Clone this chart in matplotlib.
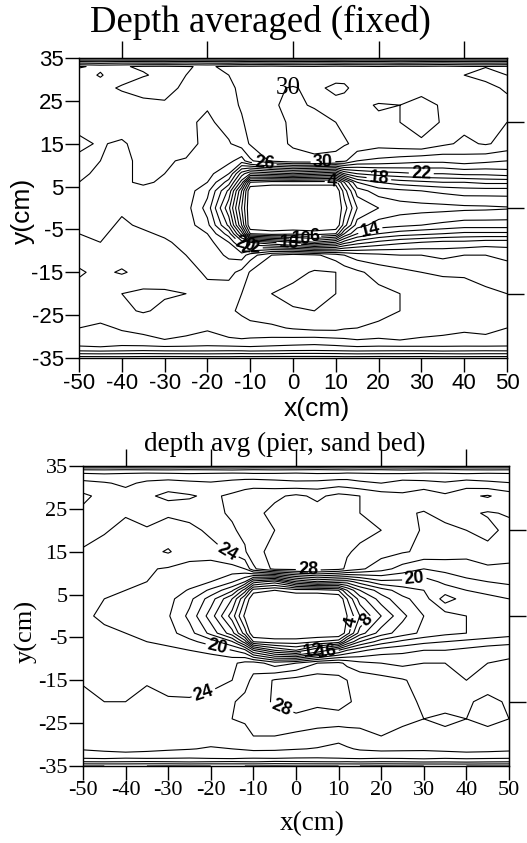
import numpy as np
import matplotlib.pyplot as plt

plt.rcParams['axes.unicode_minus'] = False

# grid of the measured depth-averaged velocity (cm/s), rows run from y=35 down to y=-35
x_cm = [-50, -45, -40, -35, -30, -25, -20, -15, -12, -10, -5, 0, 5, 10, 12, 15, 20, 25, 30, 35, 40, 45, 50]
y_cm = [35, 34, 33, 31, 28, 24, 20, 15, 11, 8, 6, 4, 0, -4, -6, -8, -11, -15, -20, -24, -28, -31, -33, -34, -35]

speed_fixed = [
    [19.0, 19.1, 19.0, 18.9, 19.0, 19.1, 19.0, 19.0, 18.9, 19.0, 19.1, 19.0, 19.0, 18.9, 19.0, 19.1, 19.0, 19.0, 18.9, 19.0, 19.1, 19.0, 19.0],
    [25.0, 24.8, 25.1, 25.0, 24.9, 25.2, 25.0, 24.8, 25.0, 25.1, 24.9, 25.0, 25.2, 25.0, 24.9, 25.0, 25.1, 24.8, 25.0, 25.2, 25.0, 24.9, 25.0],
    [30.2, 29.6, 29.8, 30.3, 30.4, 30.1, 29.8, 30.3, 30.5, 30.4, 30.6, 30.3, 30.2, 30.5, 30.4, 30.3, 30.1, 30.4, 30.3, 30.5, 30.2, 30.1, 30.3],
    [29.0, 30.2, 28.6, 29.8, 30.6, 30.0, 29.2, 30.0, 30.6, 30.8, 31.2, 30.6, 30.2, 31.0, 31.2, 30.6, 30.0, 30.6, 30.2, 30.8, 30.0, 29.2, 30.0],
    [28.4, 29.0, 30.4, 31.4, 31.0, 29.4, 28.6, 29.6, 30.4, 31.0, 31.6, 32.2, 31.4, 32.6, 32.4, 31.2, 30.2, 30.8, 31.4, 30.8, 30.2, 30.8, 29.6],
    [29.8, 28.6, 28.2, 29.0, 29.6, 28.6, 28.2, 29.4, 30.2, 30.8, 31.8, 32.4, 31.8, 31.2, 31.0, 31.4, 32.2, 32.0, 32.6, 31.8, 30.6, 30.0, 30.8],
    [28.6, 28.0, 29.6, 29.0, 28.0, 28.4, 27.6, 28.8, 29.8, 30.6, 31.6, 32.2, 32.8, 32.0, 31.6, 31.8, 31.6, 32.0, 33.0, 31.8, 30.6, 31.2, 30.0],
    [27.6, 28.2, 27.6, 29.2, 29.8, 29.0, 27.2, 27.8, 29.0, 30.2, 31.4, 32.2, 32.6, 32.8, 32.2, 31.6, 30.8, 31.2, 31.6, 30.4, 29.6, 30.2, 29.4],
    [28.4, 28.0, 27.4, 28.6, 28.2, 27.8, 27.6, 26.6, 25.0, 27.6, 30.4, 31.4, 31.6, 31.0, 30.4, 28.0, 27.5, 27.0, 26.5, 26.5, 27.0, 26.5, 26.0],
    [28.2, 27.8, 27.6, 28.4, 28.0, 27.6, 26.8, 24.0, 17.0, 14.0, 15.0, 16.0, 15.0, 14.0, 18.0, 20.0, 21.0, 21.5, 22.0, 22.0, 22.5, 22.5, 23.0],
    [28.0, 27.6, 27.8, 28.2, 27.8, 27.4, 26.0, 21.0, 13.0, 4.0, 3.0, 3.0, 3.0, 3.0, 8.0, 14.0, 16.0, 17.0, 17.5, 18.0, 18.0, 18.5, 18.5],
    [27.8, 27.4, 27.8, 27.6, 27.4, 27.0, 24.6, 17.5, 8.0, 0.0, 0.0, 0.0, 0.0, 0.0, 5.0, 11.0, 13.0, 13.5, 14.0, 14.5, 15.0, 15.0, 15.0],
    [27.6, 27.2, 27.8, 27.4, 27.6, 26.8, 23.2, 14.5, 6.0, 0.0, 0.0, 0.0, 0.0, 0.0, 3.0, 8.0, 10.0, 11.0, 11.2, 11.3, 11.5, 11.6, 11.8],
    [27.8, 27.6, 28.2, 27.8, 27.4, 27.0, 24.6, 17.5, 8.0, 0.0, 0.0, 0.0, 0.0, 0.0, 5.0, 11.0, 13.0, 13.5, 14.0, 14.5, 15.0, 15.0, 15.0],
    [28.0, 27.8, 28.4, 28.2, 27.8, 27.4, 26.0, 21.0, 13.0, 4.0, 3.0, 3.5, 3.0, 4.0, 10.0, 14.0, 16.0, 17.0, 17.5, 18.0, 18.5, 18.5, 18.5],
    [28.4, 28.0, 28.6, 28.2, 28.2, 27.6, 26.8, 24.0, 19.0, 18.0, 16.0, 14.0, 12.0, 14.0, 17.0, 19.0, 20.5, 21.5, 22.0, 22.5, 22.5, 23.0, 23.0],
    [28.6, 28.2, 28.8, 28.4, 28.6, 28.0, 27.2, 25.6, 25.0, 27.0, 30.0, 31.0, 30.4, 29.0, 28.0, 27.0, 26.5, 26.0, 26.0, 25.5, 26.0, 26.0, 25.5],
    [27.8, 28.4, 27.8, 28.6, 29.2, 29.0, 27.6, 27.4, 28.6, 30.2, 31.8, 31.4, 32.2, 32.0, 31.2, 30.4, 29.2, 28.6, 28.0, 27.8, 27.8, 27.6, 27.0],
    [28.6, 29.4, 30.0, 30.4, 30.2, 30.0, 28.8, 29.0, 30.0, 30.8, 32.0, 32.6, 32.4, 32.0, 31.8, 31.2, 30.6, 30.0, 29.4, 28.8, 28.6, 28.2, 28.0],
    [28.4, 29.0, 29.6, 30.2, 29.6, 29.0, 28.4, 29.6, 30.4, 30.8, 31.4, 31.8, 32.0, 31.4, 31.2, 30.8, 30.6, 30.0, 29.4, 29.2, 28.8, 28.6, 28.6],
    [28.0, 27.6, 28.2, 28.4, 28.8, 28.8, 28.2, 28.8, 29.0, 29.4, 29.6, 30.2, 30.6, 30.6, 30.2, 30.0, 29.6, 29.4, 28.8, 28.8, 28.2, 28.2, 28.0],
    [27.5, 27.8, 27.2, 27.6, 27.9, 27.5, 27.3, 27.7, 27.8, 27.6, 27.4, 27.2, 27.0, 27.3, 27.5, 27.8, 27.6, 27.9, 27.7, 27.4, 27.6, 27.8, 27.5],
    [25.0, 25.2, 25.0, 24.8, 25.0, 25.1, 25.0, 24.9, 25.0, 25.2, 25.0, 24.8, 24.7, 24.9, 25.0, 25.1, 25.0, 24.9, 25.0, 25.2, 25.0, 24.9, 25.0],
    [22.0, 22.1, 22.0, 21.9, 22.0, 22.0, 22.1, 22.0, 21.9, 22.0, 22.0, 21.8, 21.8, 21.9, 22.0, 22.1, 22.0, 22.0, 21.9, 22.0, 22.1, 22.0, 22.0],
    [19.0, 19.0, 19.1, 19.0, 18.9, 19.0, 19.0, 19.1, 19.0, 19.0, 18.9, 19.0, 19.0, 19.0, 19.1, 19.0, 18.9, 19.0, 19.0, 19.1, 19.0, 19.0, 19.0],
]

speed_sand = [
    [16.0, 16.1, 16.0, 15.9, 16.0, 16.1, 16.0, 16.0, 15.9, 16.0, 16.1, 16.0, 16.0, 15.9, 16.0, 16.1, 16.0, 16.0, 15.9, 16.0, 16.1, 16.0, 16.0],
    [20.5, 20.4, 20.6, 20.5, 20.4, 20.6, 20.5, 20.3, 20.5, 20.6, 20.4, 20.5, 20.7, 20.5, 20.4, 20.5, 20.6, 20.3, 20.5, 20.7, 20.5, 20.4, 20.5],
    [22.6, 22.3, 22.5, 22.8, 22.7, 22.4, 22.6, 22.9, 22.7, 22.5, 22.6, 22.8, 22.4, 22.6, 22.9, 22.7, 22.4, 22.5, 22.8, 22.6, 22.4, 22.7, 22.5],
    [24.6, 24.2, 23.6, 24.4, 24.8, 24.5, 24.2, 24.6, 25.0, 25.2, 24.8, 24.4, 24.6, 25.0, 24.8, 24.4, 24.0, 24.8, 24.5, 24.2, 24.9, 24.4, 24.1],
    [26.4, 25.4, 24.8, 25.6, 26.6, 26.2, 25.6, 26.4, 27.0, 27.2, 27.6, 28.4, 27.6, 28.6, 28.4, 28.0, 27.0, 26.4, 27.6, 26.4, 27.6, 28.2, 27.0],
    [25.6, 24.8, 24.2, 24.8, 24.4, 25.0, 25.6, 26.2, 26.8, 27.4, 28.6, 28.2, 28.8, 28.6, 28.6, 28.0, 27.4, 26.4, 25.8, 27.0, 26.4, 25.8, 26.2],
    [24.8, 24.2, 23.4, 23.8, 22.8, 23.2, 24.6, 25.8, 26.4, 27.0, 28.0, 28.6, 29.0, 28.8, 29.2, 28.6, 28.0, 26.8, 25.8, 25.2, 26.0, 26.6, 25.4],
    [23.8, 23.2, 22.6, 23.4, 24.2, 22.8, 23.0, 24.4, 25.8, 27.2, 28.8, 29.4, 29.0, 28.8, 28.2, 27.6, 26.8, 26.2, 25.6, 25.2, 24.6, 25.4, 24.8],
    [23.0, 22.8, 22.2, 22.2, 21.8, 21.4, 21.0, 21.2, 22.0, 25.6, 28.6, 28.8, 29.2, 28.6, 27.6, 26.4, 24.8, 23.2, 22.0, 22.6, 23.2, 23.6, 23.6],
    [22.8, 22.6, 22.4, 22.0, 21.8, 21.0, 20.0, 18.2, 16.0, 11.0, 9.0, 14.0, 16.0, 15.0, 15.0, 17.0, 19.5, 19.5, 19.0, 20.5, 21.5, 22.0, 22.5],
    [22.6, 22.4, 22.0, 21.8, 21.2, 19.8, 17.6, 14.4, 9.0, 3.0, 2.0, 3.0, 3.0, 4.0, 8.0, 12.0, 15.0, 17.0, 18.0, 19.0, 20.0, 20.5, 21.0],
    [22.4, 22.0, 21.8, 21.4, 20.6, 18.6, 15.0, 10.0, 4.0, 0.0, 0.0, 0.0, 0.0, 0.0, 4.0, 9.0, 13.0, 15.5, 17.0, 21.0, 19.0, 19.5, 20.0],
    [22.2, 21.8, 21.6, 21.2, 20.2, 17.5, 13.0, 7.0, 1.5, 0.0, 0.0, 0.0, 0.0, 0.0, 2.0, 6.0, 10.0, 13.5, 16.0, 17.0, 18.0, 18.5, 19.0],
    [22.6, 22.2, 22.0, 21.6, 20.8, 18.8, 15.4, 10.8, 5.0, 0.0, 0.0, 0.0, 0.0, 0.0, 3.0, 9.0, 13.0, 15.0, 16.5, 17.5, 18.0, 18.5, 19.0],
    [22.8, 22.6, 22.4, 22.0, 21.6, 20.6, 19.0, 16.2, 11.0, 4.0, 3.0, 3.0, 4.0, 5.0, 10.0, 14.0, 17.0, 18.5, 19.5, 20.0, 20.5, 21.0, 21.5],
    [23.2, 23.0, 22.8, 22.4, 22.4, 22.0, 21.4, 20.0, 18.6, 14.0, 10.0, 8.0, 12.0, 16.0, 18.0, 19.5, 21.0, 21.5, 22.0, 22.0, 22.5, 23.0, 23.0],
    [23.4, 23.0, 23.0, 22.6, 23.0, 23.0, 23.4, 23.6, 24.6, 25.0, 23.0, 24.0, 26.0, 26.5, 25.5, 24.5, 24.0, 23.5, 24.0, 24.0, 23.5, 24.0, 24.5],
    [23.8, 23.2, 22.6, 23.8, 22.8, 23.2, 23.4, 24.0, 25.2, 26.6, 28.2, 28.8, 29.2, 28.6, 28.0, 27.4, 26.8, 26.2, 25.2, 24.6, 24.0, 25.2, 24.6],
    [24.6, 24.0, 24.0, 24.6, 24.4, 24.2, 24.6, 25.8, 26.6, 27.2, 28.2, 28.8, 28.4, 28.8, 28.2, 27.6, 27.0, 26.4, 25.8, 25.2, 25.8, 26.4, 25.8],
    [25.4, 25.4, 24.8, 24.8, 25.4, 24.8, 25.4, 26.0, 26.2, 26.6, 27.2, 27.6, 27.2, 27.2, 27.0, 26.6, 26.4, 26.4, 26.0, 26.4, 26.0, 26.4, 26.0],
    [25.0, 25.5, 25.0, 24.5, 25.0, 25.0, 25.0, 25.5, 25.5, 26.0, 26.0, 25.5, 25.0, 24.5, 25.0, 25.5, 26.0, 25.5, 25.0, 25.5, 26.0, 25.5, 25.0],
    [24.2, 24.5, 25.0, 24.6, 24.3, 24.1, 23.8, 24.0, 24.2, 24.4, 24.3, 24.1, 23.9, 23.6, 23.8, 24.2, 24.5, 24.4, 24.3, 24.6, 24.8, 24.7, 24.5],
    [22.5, 22.7, 22.4, 22.6, 22.5, 22.3, 22.6, 22.8, 22.5, 22.4, 22.6, 22.3, 22.2, 22.4, 22.6, 22.7, 22.5, 22.6, 22.8, 22.5, 22.7, 22.6, 22.5],
    [20.0, 20.1, 20.0, 19.9, 20.0, 20.2, 20.0, 19.9, 20.0, 20.1, 19.8, 19.9, 20.0, 20.1, 20.0, 20.2, 20.0, 20.1, 20.3, 20.2, 20.4, 20.2, 20.1],
    [16.0, 16.0, 16.1, 16.0, 15.9, 16.0, 16.0, 16.1, 16.0, 16.0, 15.9, 16.0, 16.0, 16.0, 16.1, 16.0, 15.9, 16.0, 16.0, 16.1, 16.0, 16.0, 16.0],
]

levels = list(range(2, 34, 2))

fixed_label_vals = [30, 22, 18, 26, 4, 14, 10, 6, 16, 20, 22]
fixed_label_xy = [(7, 11), (30, 8.5), (20, 6), (-7, 7.5), (9, 4.5), (18, -5), (2, -6.5), (5, -6), (-1, -8.5), (-11, -7.5), (-10, -8)]
sand_label_vals = [28, 24, 20, 20, 4, 8, 12, 16, 24, 28]
sand_label_xy = [(3, 16.5), (-17, 12.5), (28, 7), (-18, -5.5), (13, -1.5), (17.5, -2), (4, -7.5), (7, -7.5), (-22, -17), (-3, -20.5)]

ticks_x = list(range(-50, 51, 10))
ticks_y = list(range(-35, 36, 10))

fig = plt.figure(figsize=(5.27, 8.43), dpi=100)
ax1 = fig.add_axes([79/527, 1-358/843, 428/527, 300/843])
ax2 = fig.add_axes([83/527, 1-766/843, 426/527, 300/843])


def draw(ax, z, vals, xy, family, lab_size):
    z = np.array(z)
    plain = [lv for lv in levels if lv not in vals]
    ax.contour(x_cm, y_cm, z, levels=plain, colors='black', linewidths=0.8)
    # labelled levels get their own contour set so the label can cut its own line
    for v in sorted(set(vals)):
        pts = [p for val, p in zip(vals, xy) if val == v]
        cs = ax.contour(x_cm, y_cm, z, levels=[v], colors='black', linewidths=0.8)
        txts = ax.clabel(cs, manual=pts, inline=True, inline_spacing=1, fmt='%d', fontsize=lab_size)
        for t in txts:
            t.set_fontweight('bold')
            t.set_family('Liberation Sans')
    ax.set_xlim(-50, 50)
    ax.set_ylim(-35, 35)
    ax.set_xticks(ticks_x)
    ax.set_yticks(ticks_y)
    ax.tick_params(direction='out', length=10, width=1, labelsize=16, pad=1)
    for lab in ax.get_xticklabels() + ax.get_yticklabels():
        lab.set_family(family)
    # unlabelled ticks on the top and right edges
    top = ax.secondary_xaxis('top')
    top.set_xticks([-40, -20, 0, 20, 40])
    top.tick_params(direction='out', length=12, width=1, labeltop=False)
    right = ax.secondary_yaxis('right')
    right.set_yticks([-20, 0, 20])
    right.tick_params(direction='out', length=12, width=1, labelright=False)
    for s in ax.spines.values():
        s.set_linewidth(1)


draw(ax1, speed_fixed, fixed_label_vals, fixed_label_xy, 'Liberation Sans', 13)
draw(ax2, speed_sand, sand_label_vals, sand_label_xy, 'Liberation Serif', 13)

ax1.text(-1, 28, '30', family='Liberation Serif', fontsize=18, ha='center', va='center')

fig.text(260/527, 1-22/843, 'Depth averaged (fixed)', family='Liberation Serif', fontsize=26.5, ha='center', va='center')
ax1.set_xlabel('x(cm)', family='Liberation Sans', fontsize=19)
ax1.xaxis.set_label_coords(0.555, -0.13)
ax1.set_ylabel('y(cm)', family='Liberation Sans', fontsize=19)
ax1.yaxis.set_label_coords(-0.103, 0.49)

fig.text(285/527, 1-444/843, 'depth avg (pier, sand bed)', family='Liberation Serif', fontsize=19.5, ha='center', va='center')
ax2.set_xlabel('x(cm)', family='Liberation Serif', fontsize=19.5)
ax2.xaxis.set_label_coords(0.537, -0.15)
ax2.set_ylabel('y(cm)', family='Liberation Serif', fontsize=19)
ax2.yaxis.set_label_coords(-0.106, 0.45)

fig.savefig('out.png', dpi=100)
